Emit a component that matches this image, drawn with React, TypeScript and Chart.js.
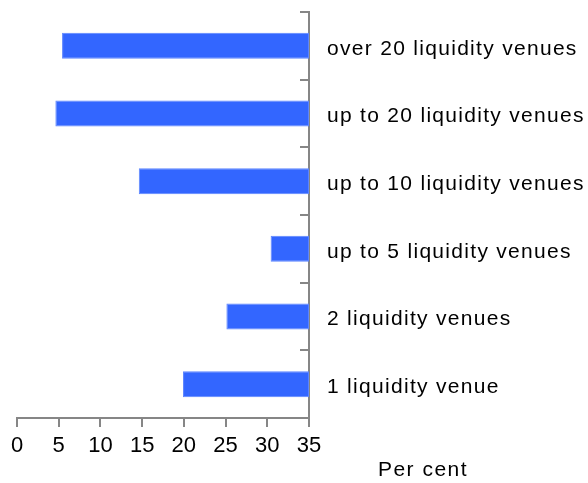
import { useEffect, useRef } from "react";
import { Chart, registerables } from "chart.js";

Chart.register(...registerables);

const categories = [
  "over 20 liquidity venues",
  "up to 20 liquidity venues",
  "up to 10 liquidity venues",
  "up to 5 liquidity venues",
  "2 liquidity venues",
  "1 liquidity venue",
];
const barStarts = [5.4, 4.6, 14.6, 30.4, 25.1, 19.9];
const axisEnd = 35;
const xMin = 0;
const xStep = 5;
const axisTitle = "Per cent";

const FONT = '"Liberation Sans", Arial, sans-serif';
const GREY = "#868686";

export default function App() {
  const ref = useRef<HTMLCanvasElement | null>(null);

  useEffect(() => {
    if (!ref.current) return;

    const extrasPlugin = {
      id: "extras",
      beforeDraw(chart: any) {
        const s = chart.scales.y;
        if (s && !s._spacingPatched) {
          const orig = s.drawLabels.bind(s);
          s.drawLabels = (area: any) => {
            const ctx = chart.ctx;
            ctx.save();
            ctx.letterSpacing = "1.3px";
            orig(area);
            ctx.restore();
          };
          s._spacingPatched = true;
        }
      },
      afterDraw(chart: any) {
        const ctx = chart.ctx;
        const xs = chart.scales.x;
        ctx.save();
        ctx.font = `21px ${FONT}`;
        ctx.letterSpacing = "1.5px";
        ctx.fillStyle = "#000";
        ctx.textAlign = "center";
        ctx.textBaseline = "middle";
        ctx.fillText(axisTitle, xs.right + 114, xs.bottom - 13);
        ctx.restore();
      },
    };

    const chart = new Chart(ref.current, {
      type: "bar",
      data: {
        labels: categories,
        datasets: [
          {
            data: categories.map((_, i) => [barStarts[i], axisEnd]) as any,
            backgroundColor: "#3366ff",
            borderColor: "#5c85ff",
            borderWidth: 1,
            borderSkipped: false,
            barPercentage: 0.384,
            categoryPercentage: 1,
          },
        ],
      },
      options: {
        indexAxis: "y",
        animation: false,
        responsive: false,
        devicePixelRatio: 1,
        layout: { padding: { left: 17, top: 12, right: 0, bottom: 0 } },
        plugins: {
          legend: { display: false },
          tooltip: { enabled: false },
          title: { display: false },
        },
        scales: {
          x: {
            type: "linear",
            position: "bottom",
            min: xMin,
            max: axisEnd,
            grid: {
              drawOnChartArea: false,
              drawTicks: true,
              tickLength: 9,
              color: GREY,
              lineWidth: 2,
            },
            border: { display: true, color: GREY, width: 2 },
            ticks: {
              stepSize: xStep,
              color: "#000",
              font: { family: FONT, size: 22 },
              padding: 6,
              maxRotation: 0,
            },
            afterFit(scale: any) {
              scale.height = 65;
            },
          },
          y: {
            type: "category",
            position: "right",
            grid: {
              drawOnChartArea: false,
              drawTicks: true,
              tickLength: -9,
              color: GREY,
              lineWidth: 2,
              offset: true,
            },
            border: { display: true, color: GREY, width: 2 },
            ticks: {
              color: "#000",
              font: { family: FONT, size: 21 },
              padding: 27,
              crossAlign: "near",
              labelOffset: 3,
            },
            afterFit(scale: any) {
              scale.width = 279;
              scale.paddingTop = 0;
              scale.paddingBottom = 0;
            },
          },
        },
      },
      plugins: [extrasPlugin],
    });

    return () => chart.destroy();
  }, []);

  return (
    <div style={{ position: "absolute", left: 0, top: 0, width: 588, height: 483 }}>
      <canvas ref={ref} width={588} height={483} style={{ width: 588, height: 483 }} />
    </div>
  );
}
